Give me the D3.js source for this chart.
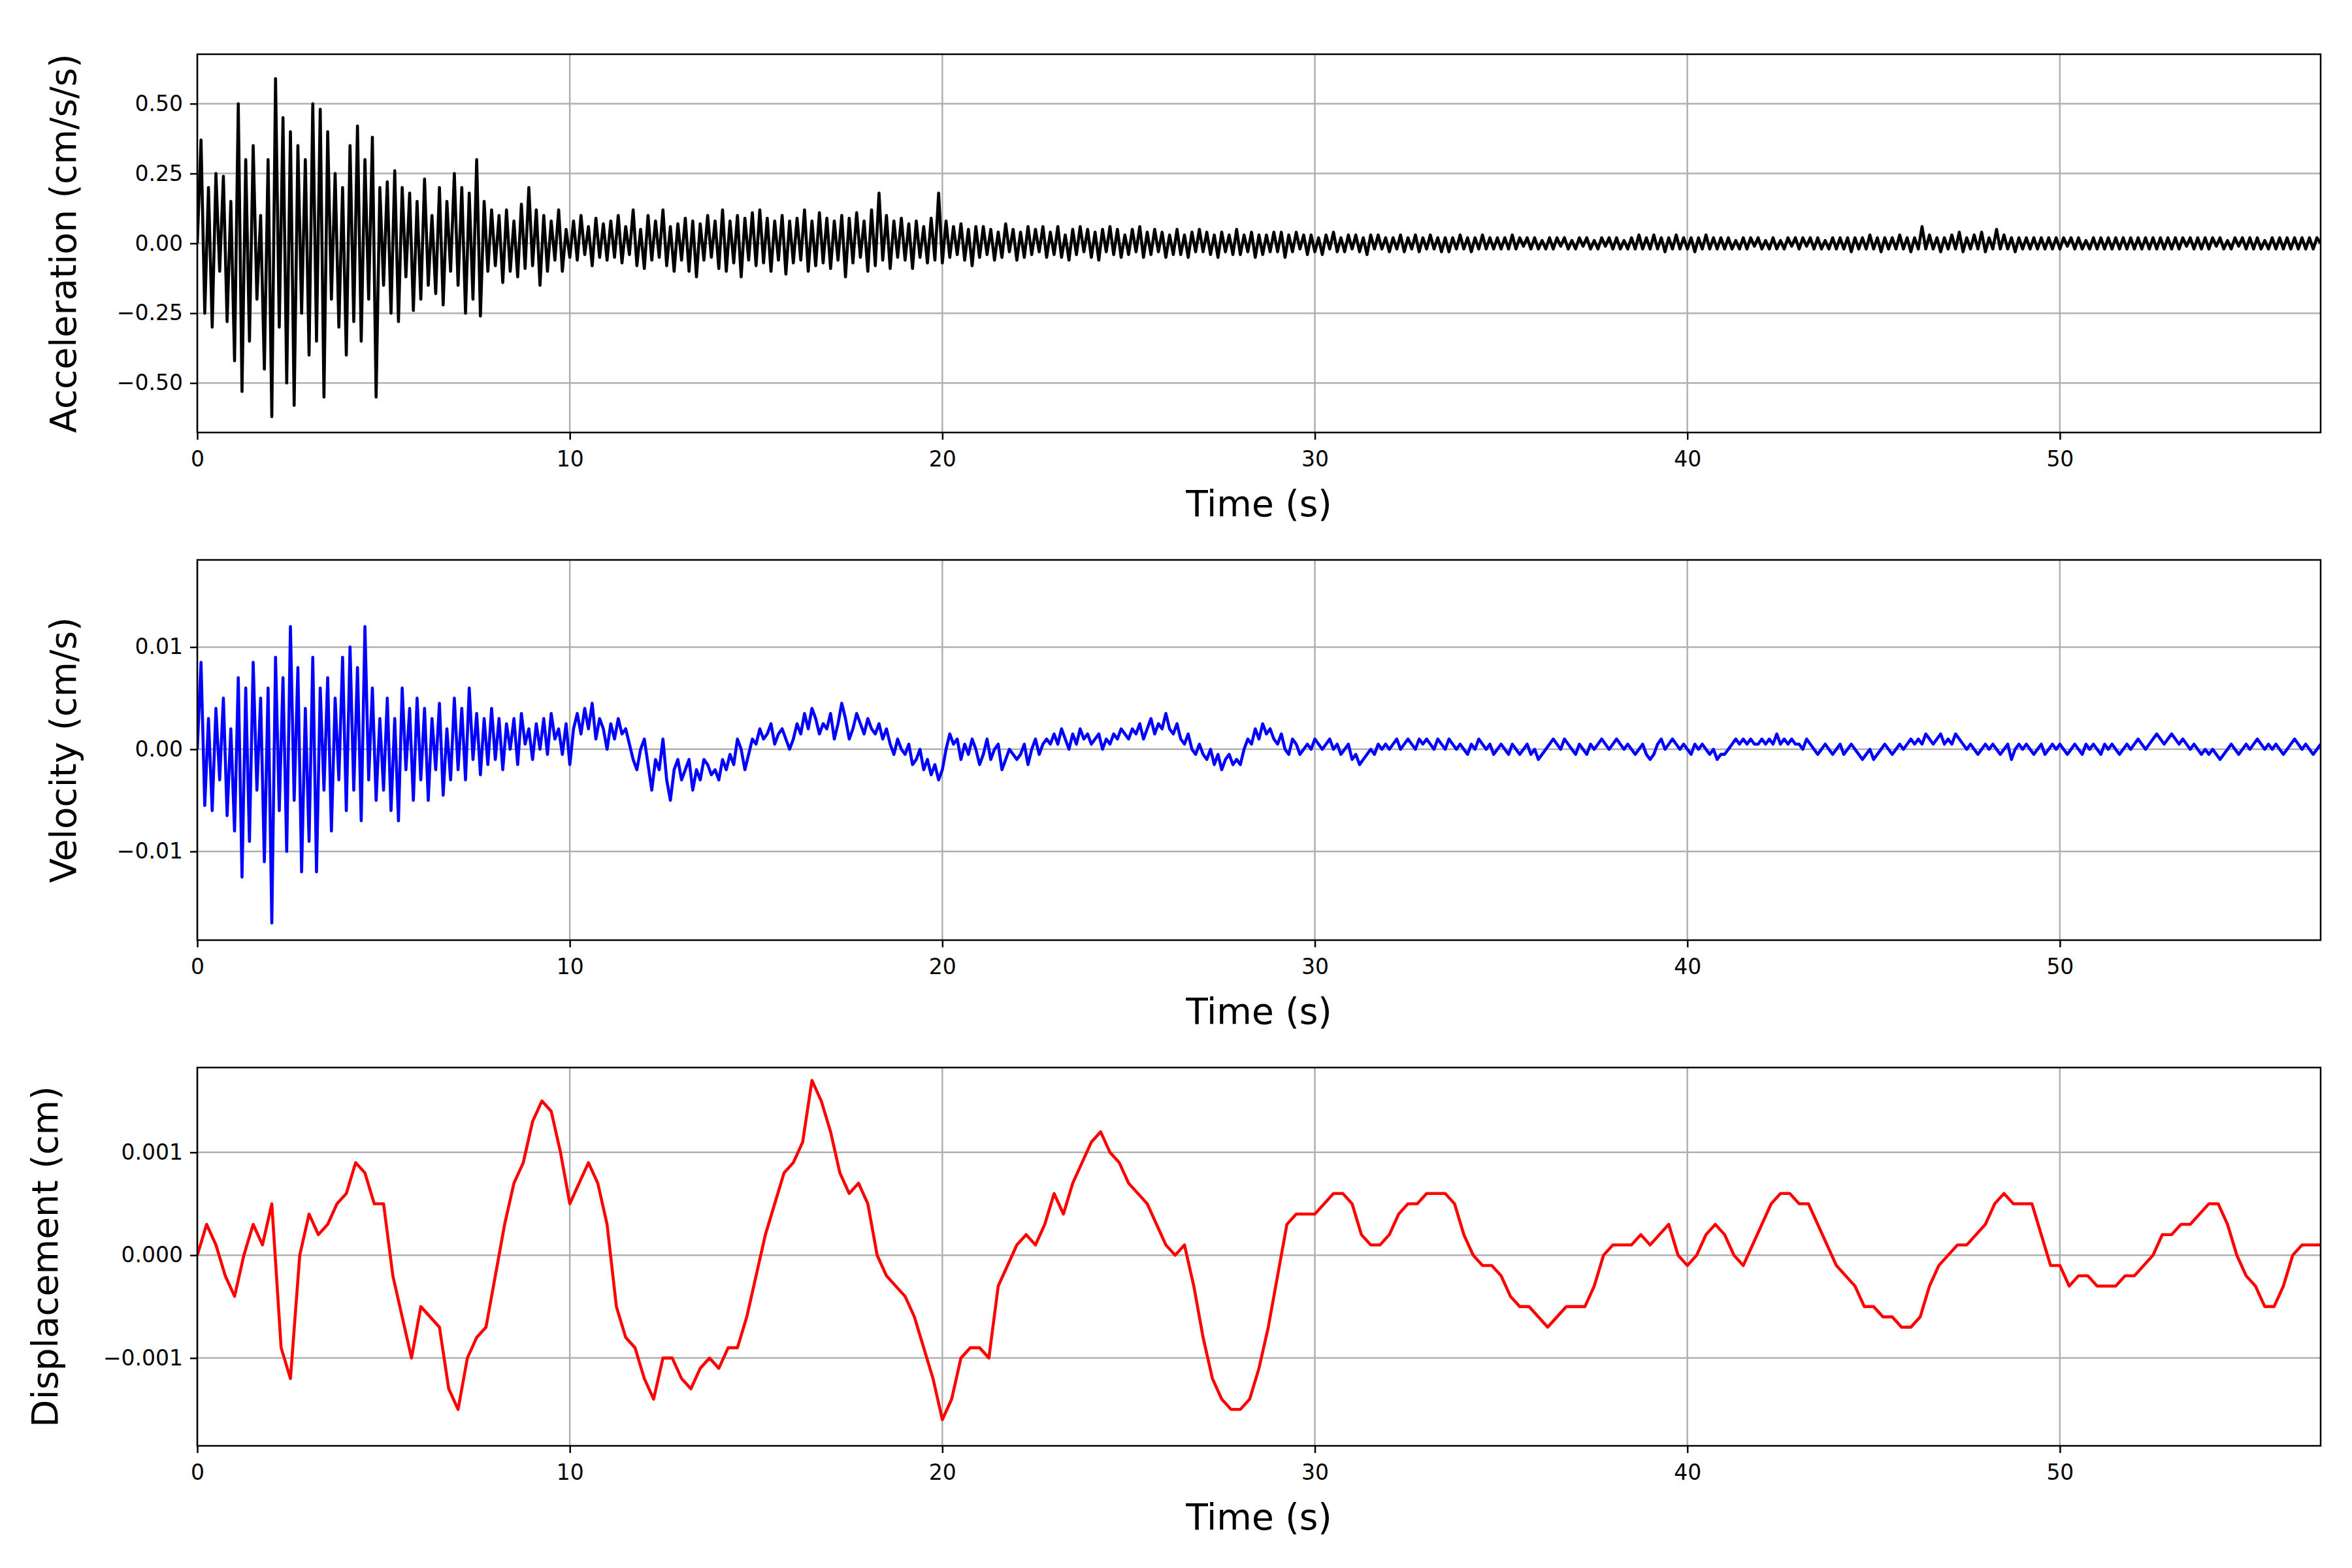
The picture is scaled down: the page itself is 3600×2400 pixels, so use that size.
<!DOCTYPE html>
<html><head><meta charset="utf-8">
<script src="https://cdn.jsdelivr.net/npm/d3@7"></script>
<style>body{margin:0;background:#fff}</style></head>
<body><svg id="c" width="3600" height="2400"></svg>
<script>
// Acceleration, units of 0.01 cm/s/s, dt = 0.1 s
const accC = [
0,37,-25,20,-30,25,-10,24,-28,15,
-42,50,-53,30,-35,35,-20,10,-45,30,
-62,59,-30,45,-50,40,-58,35,-25,30,
-40,50,-35,48,-55,40,-20,25,-30,20,
-40,35,-28,42,-35,30,-20,38,-55,20,
-15,22,-25,26,-28,20,-12,18,-24,15,
-20,23,-15,10,-18,20,-22,15,-10,25,
-15,20,-25,18,-20,30,-26,15,-10,12,
-8,10,-14,12,-10,8,-12,14,-9,20,
-8,12,-15,10,-10,8,-6,12,-10,5,
-5,8,-6,10,-4,6,-8,9,-5,7,
-6,8,-5,10,-7,6,-4,12,-8,5,
-9,10,-6,8,-5,12,-8,6,-10,7,
-6,9,-10,8,-12,7,-6,10,-5,8,
-9,12,-10,8,-7,10,-12,9,-6,11,
-8,12,-7,9,-10,8,-6,10,-11,8,
-7,9,-6,12,-10,8,-8,11,-7,9,
-9,8,-6,10,-12,9,-7,11,-5,8,
-10,12,-8,18,-6,10,-9,8,-5,9,
-6,7,-9,8,-5,6,-7,9,-6,18,
-7,8,-5,6,-4,7,-6,5,-8,6,
-5,6,-4,5,-6,4,-5,7,-3,5,
-6,4,-5,6,-4,5,-3,6,-5,4,
-4,6,-5,3,-6,5,-4,6,-3,5,
-5,4,-6,5,-3,6,-4,5,-5,3,
-4,5,-3,6,-5,4,-4,5,-3,4,
-5,3,-4,5,-4,3,-5,4,-3,5,
-3,4,-4,3,-5,4,-3,3,-4,5,
-4,3,-3,4,-5,3,-4,3,-3,4,
-3,4,-5,3,-3,4,-2,3,-4,3,
-3,2,-4,3,-2,4,-3,2,-3,3,
-2,3,-3,2,-4,3,-2,3,-2,2,
-3,2,-2,3,-3,2,-2,3,-3,2,
-2,3,-2,2,-3,2,-3,2,-2,3,
-2,2,-3,2,-2,3,-2,2,-2,2,
-2,2,-2,3,-2,2,-1,2,-2,2,
-2,1,-2,2,-2,2,-1,2,-2,1,
-2,2,-1,2,-2,1,-2,2,-1,2,
-2,2,-2,1,-2,2,-2,3,-2,2,
-2,3,-2,2,-3,2,-2,3,-2,2,
-2,2,-3,2,-2,3,-2,2,-2,2,
-2,2,-2,1,-2,2,-2,2,-1,2,
-2,1,-2,2,-2,1,-2,2,-1,2,
-2,2,-1,2,-2,2,-2,1,-2,2,
-2,2,-2,2,-3,2,-2,2,-2,3,
-2,2,-3,2,-2,2,-2,3,-2,2,
-3,2,-2,6,-2,3,-2,2,-3,2,
-2,3,-2,4,-3,2,-2,3,-2,4,
-3,2,-2,5,-2,3,-2,2,-3,2,
-2,2,-2,2,-2,2,-2,2,-2,2,
-2,2,-1,2,-2,2,-2,1,-2,2,
-2,2,-2,2,-2,2,-2,2,-2,2,
-2,2,-2,2,-2,2,-2,2,-2,2,
-2,2,-2,2,-1,2,-2,2,-2,2,
-2,2,-1,2,-2,1,-2,2,-1,2,
-2,2,-2,2,-2,1,-2,2,-2,2,
-2,2,-2,2,-2,2,-2,2,-2,2,0];
// Velocity, units of 1e-4 cm/s, dt = 0.1 s
const velC = [
0,85,-55,30,-60,40,-30,50,-65,20,
-80,70,-125,60,-90,85,-40,50,-110,60,
-170,90,-60,70,-100,120,-50,80,-120,40,
-90,90,-120,60,-40,70,-80,50,-30,90,
-60,100,-40,80,-70,120,-30,60,-50,30,
-40,50,-60,30,-70,60,-20,40,-50,50,
-30,40,-50,30,-20,45,-45,20,-30,50,
-20,40,-30,60,-10,35,-25,30,-15,40,
-10,30,-20,25,0,30,-15,35,5,20,
-10,25,0,30,-5,35,10,20,-5,25,
-15,20,35,15,40,20,45,10,30,20,
0,25,10,30,15,20,5,-10,-20,0,
10,-15,-40,-10,-20,10,-30,-50,-20,-10,
-30,-20,-10,-40,-20,-30,-10,-15,-25,-20,
-30,-10,-20,-5,-15,10,0,-20,-5,10,
5,20,10,15,25,5,15,20,10,0,
10,25,15,35,20,40,30,15,25,20,
35,10,25,45,30,10,20,35,25,15,
30,20,15,25,10,20,5,-5,10,0,
-5,5,-15,-10,0,-20,-10,-25,-15,-30,
-20,0,15,5,10,-10,5,-5,10,0,
-15,-5,10,-10,0,5,-20,-10,0,-5,
-10,-5,5,-15,0,10,-5,5,10,5,
15,5,20,10,0,15,5,20,10,15,
5,10,15,0,10,5,15,10,20,15,
10,20,15,25,10,20,30,15,25,20,
35,20,15,25,10,5,15,0,-5,5,
-5,-10,0,-15,-5,-20,-10,-5,-15,-10,
-15,0,10,5,20,10,25,15,20,10,
5,15,0,-5,10,5,-5,0,5,0,
10,5,0,5,10,0,5,-5,0,5,
-10,-5,-15,-10,-5,0,-5,5,0,5,
0,5,10,0,5,10,5,0,10,5,
10,5,0,10,5,0,10,5,0,5,
0,-5,5,0,10,5,0,5,-5,0,
5,0,-5,5,0,-5,0,5,-5,0,
-10,-5,0,5,10,5,0,10,5,0,
-5,5,0,-5,5,0,5,10,5,0,
5,10,5,0,5,0,-5,0,5,-5,
-10,-5,5,10,0,5,10,5,0,5,
0,-5,5,0,5,0,-5,0,-10,-5,
-5,0,5,10,5,10,5,10,5,5,
10,5,10,5,15,5,10,5,10,5,
5,0,10,5,0,-5,0,5,0,-5,
0,5,-5,0,5,0,-5,-10,-5,0,
-10,-5,0,5,0,-5,0,5,0,5,
10,5,10,5,15,10,5,10,15,5,
10,5,15,10,5,0,5,0,-5,0,
5,0,5,0,-5,0,5,-10,0,5,
0,5,0,-5,0,5,-5,0,5,0,
5,0,-5,0,5,0,-5,5,0,5,
0,-5,5,0,5,0,-5,0,5,0,
5,10,5,0,5,10,15,10,5,10,
15,10,5,10,5,0,5,0,-5,0,
-5,0,-5,-10,-5,0,5,0,-5,0,
5,0,5,10,5,0,5,0,5,0,
-5,0,5,10,5,0,5,0,-5,0,5];
// Displacement, units of 1e-4 cm, dt = 0.25 s
const dispC = [
0,3,1,-2,-4,0,3,1,5,-9,-12,0,4,2,3,5,6,9,8,5,5,-2,-6,-10,-5,-6,-7,-13,-15,-10,-8,-7,
-2,3,7,9,13,15,14,10,5,7,9,7,3,-5,-8,-9,-12,-14,-10,-10,-12,-13,-11,-10,-11,-9,-9,-6,
-2,2,5,8,9,11,17,15,12,8,6,7,5,0,-2,-3,-4,-6,-9,-12,-16,-14,-10,-9,-9,-10,-3,-1,
1,2,1,3,6,4,7,9,11,12,10,9,7,6,5,3,1,0,1,-3,-8,-12,-14,-15,-15,-14,-11,-7,
-2,3,4,4,4,5,6,6,5,2,1,1,2,4,5,5,6,6,6,5,2,0,-1,-1,-2,-4,-5,-5,-6,-7,-6,-5,
-5,-5,-3,0,1,1,1,2,1,2,3,0,-1,0,2,3,2,0,-1,1,3,5,6,6,5,5,3,1,-1,-2,-3,-5,
-5,-6,-6,-7,-7,-6,-3,-1,0,1,1,2,3,5,6,5,5,5,2,-1,-1,-3,-2,-2,-3,-3,-3,-2,
-2,-1,0,2,2,3,3,4,5,5,3,0,-2,-3,-5,-5,-3,0,1,1,1];
const xTicks = [0,10,20,30,40,50];
const accTicks = [-0.5,-0.25,0,0.25,0.5];
const velTicks = [-0.01,0,0.01];
const dispTicks = [-0.001,0,0.001];

const svg = d3.select('#c');
svg.append('rect').attr('width',3600).attr('height',2400).attr('fill','#fff');
const L=302,R=3552;
const x = d3.scaleLinear().domain([0,57]).range([L,R]);
const font='DejaVu Sans';
const panels = [
 {vals:accC.map(v=>v*0.01),dt:0.1,top:83,bot:662,dom:[-0.677,0.677],ticks:accTicks,fmt:d3.format('.2f'),label:'Acceleration (cm/s/s)',color:'#000',lx:97},
 {vals:velC.map(v=>v*1e-4),dt:0.1,top:857,bot:1439,dom:[-0.01868,0.01853],ticks:velTicks,fmt:d3.format('.2f'),label:'Velocity (cm/s)',color:'#0000ff',lx:97},
 {vals:dispC.map(v=>v*1e-4),dt:0.25,top:1634,bot:2213,dom:[-0.001854,0.001825],ticks:dispTicks,fmt:d3.format('.3f'),label:'Displacement (cm)',color:'#ff0000',lx:69}
];
panels.forEach((p,i)=>{
  const y=d3.scaleLinear().domain(p.dom).range([p.bot,p.top]);
  const g=svg.append('g');
  g.selectAll('.gx').data(xTicks).join('line').attr('x1',d=>x(d)).attr('x2',d=>x(d)).attr('y1',p.top).attr('y2',p.bot).attr('stroke','#b0b0b0').attr('stroke-width',2.5);
  g.selectAll('.gy').data(p.ticks).join('line').attr('x1',L).attr('x2',R).attr('y1',d=>y(d)).attr('y2',d=>y(d)).attr('stroke','#b0b0b0').attr('stroke-width',2.5);
  const cid='clip'+i;
  svg.append('clipPath').attr('id',cid).append('rect').attr('x',L).attr('y',p.top).attr('width',R-L).attr('height',p.bot-p.top);
  g.append('path').datum(p.vals).attr('clip-path',`url(#${cid})`)
   .attr('d',d3.line().x((d,j)=>x(j*p.dt)).y(d=>y(d)))
   .attr('fill','none').attr('stroke',p.color).attr('stroke-width',4.6).attr('stroke-linejoin','round');
  g.append('rect').attr('x',L).attr('y',p.top).attr('width',R-L).attr('height',p.bot-p.top).attr('fill','none').attr('stroke','#000').attr('stroke-width',2.5);
  const ax=g.append('g').attr('transform',`translate(0,${p.bot})`).call(d3.axisBottom(x).tickValues(xTicks).tickSize(11).tickPadding(18).tickFormat(d3.format('d')));
  const ay=g.append('g').attr('transform',`translate(${L},0)`).call(d3.axisLeft(y).tickValues(p.ticks).tickSize(11).tickPadding(11).tickFormat(d=>p.fmt(d).replace('-','\u2212')));
  [ax,ay].forEach(a=>{a.select('.domain').remove();a.selectAll('line').attr('stroke-width',2.5);a.selectAll('text').attr('font-family',font).attr('font-size',33).attr('fill','#000');});
  g.append('text').attr('x',(L+R)/2).attr('y',p.bot+128).attr('text-anchor','middle').attr('font-family',font).attr('font-size',55).text('Time (s)');
  g.append('text').attr('transform',`translate(${p.lx},${(p.top+p.bot)/2}) rotate(-90)`).attr('text-anchor','middle').attr('dominant-baseline','central').attr('font-family',font).attr('font-size',55).text(p.label);
});
</script></body></html>
